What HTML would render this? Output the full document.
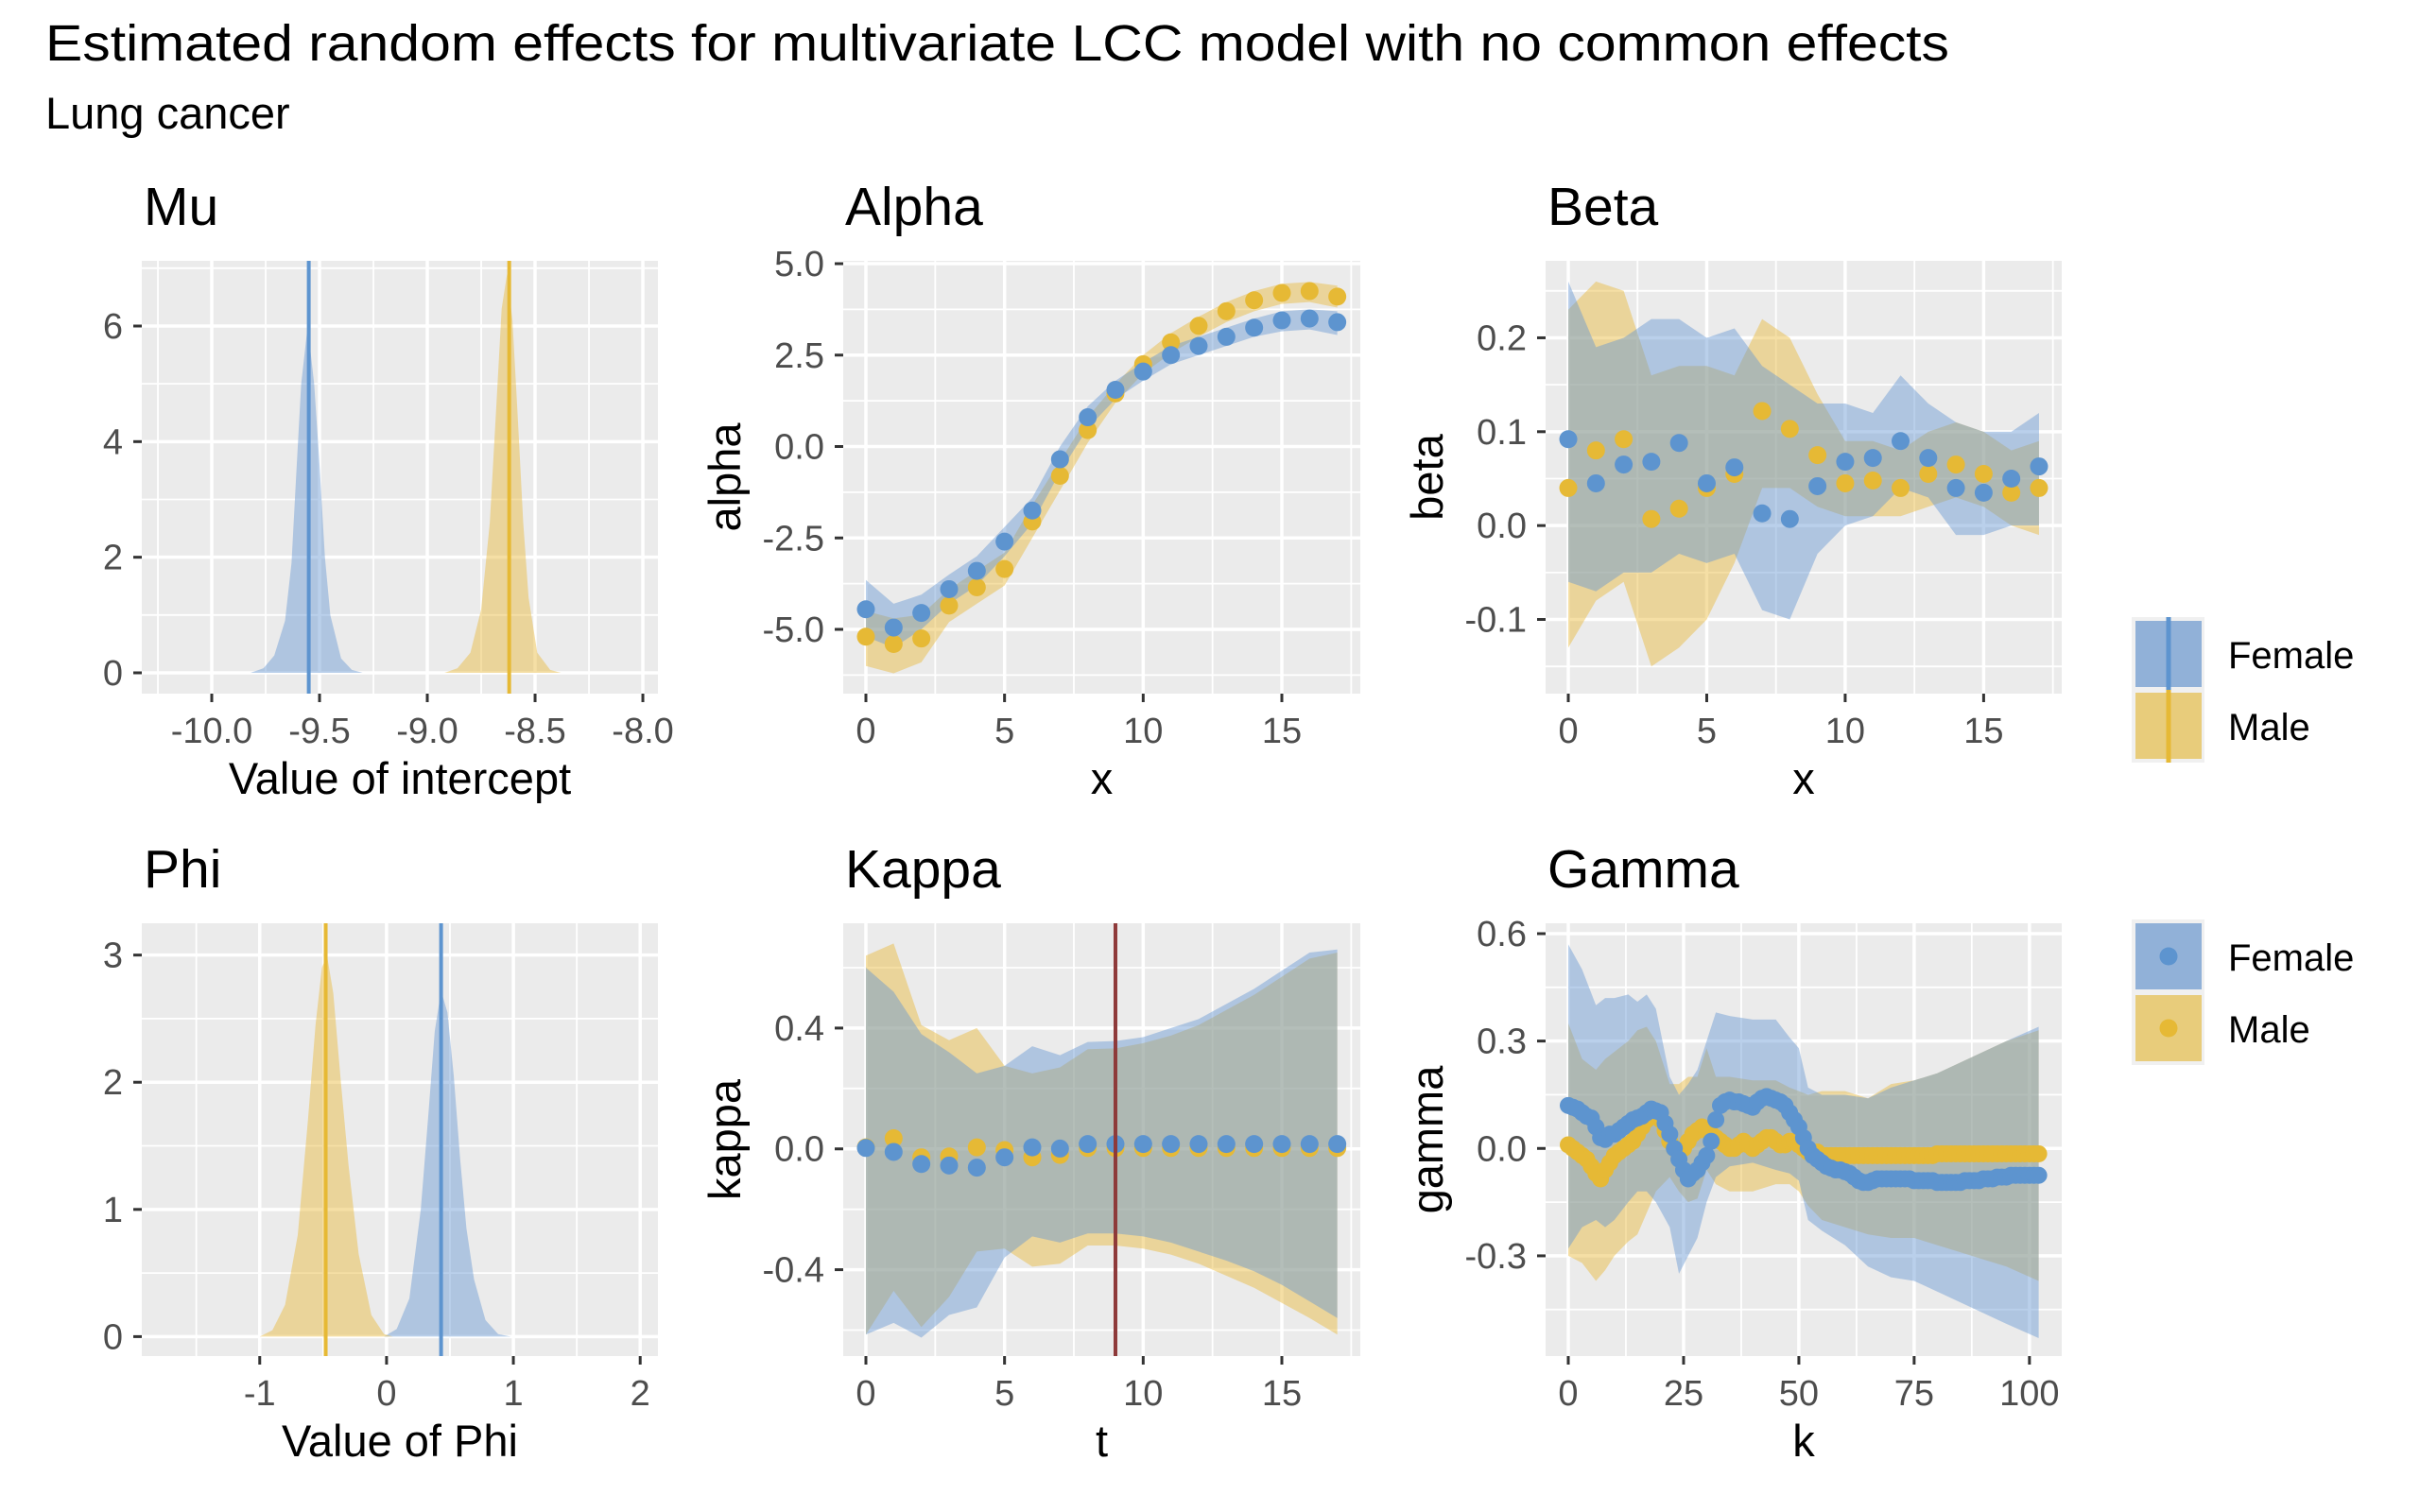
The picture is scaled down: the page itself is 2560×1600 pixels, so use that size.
<!DOCTYPE html>
<html><head><meta charset="utf-8"><style>
html,body{margin:0;padding:0;background:#fff;}
svg{display:block;font-family:"Liberation Sans",Arial,sans-serif;}
</style></head><body>
<svg id="chart" width="2560" height="1600" viewBox="0 0 2560 1600" xmlns="http://www.w3.org/2000/svg">
<text x="48" y="64" font-size="54" fill="#000" textLength="2014" lengthAdjust="spacingAndGlyphs">Estimated random effects for multivariate LCC model with no common effects</text>
<text x="48" y="136" font-size="47" fill="#000">Lung cancer</text>
</svg>
<script>
// ---------- data ----------
const sexes = ["Female","Male"];
// Mu densities
const muXF = [-9.82,-9.76,-9.71,-9.66,-9.63,-9.61,-9.585,-9.555,-9.525,-9.50,-9.475,-9.45,-9.40,-9.35,-9.30];
const muYF = [0,0.08,0.3,0.9,1.9,3.3,5.0,6.0,5.0,3.6,2.0,1.0,0.25,0.05,0];
const muXM = [-8.92,-8.86,-8.80,-8.75,-8.71,-8.68,-8.655,-8.63,-8.605,-8.58,-8.555,-8.53,-8.49,-8.43,-8.38];
const muYM = [0,0.08,0.35,1.1,2.6,4.6,6.3,6.9,6.1,4.4,2.6,1.3,0.35,0.05,0];
const muMeans = [-9.55,-8.62];
// Phi densities
const phiXF = [-0.02,0.08,0.18,0.27,0.33,0.38,0.43,0.48,0.53,0.58,0.63,0.69,0.78,0.88,0.98];
const phiYF = [0,0.06,0.3,1.0,1.75,2.4,2.72,2.55,2.05,1.4,0.85,0.45,0.13,0.02,0];
const phiXM = [-1.0,-0.9,-0.8,-0.7,-0.62,-0.56,-0.51,-0.47,-0.42,-0.36,-0.30,-0.22,-0.12,-0.02,0.05];
const phiYM = [0,0.05,0.25,0.8,1.7,2.45,2.9,3.0,2.7,2.0,1.35,0.65,0.17,0.02,0];
const phiMeans = [0.43,-0.48];
// Alpha
const ages = [0,1,2,3,4,5,6,7,8,9,10,11,12,13,14,15,16,17];
const alphaF = [-4.45,-4.95,-4.55,-3.9,-3.4,-2.6,-1.75,-0.35,0.8,1.55,2.05,2.5,2.75,3.0,3.25,3.45,3.5,3.4];
const alphaM = [-5.2,-5.4,-5.25,-4.35,-3.85,-3.35,-2.05,-0.8,0.45,1.45,2.25,2.85,3.3,3.7,4.0,4.2,4.25,4.1];
const alphaFlo = [-5.2,-5.5,-5.0,-4.3,-3.8,-3.0,-2.1,-0.7,0.5,1.3,1.8,2.25,2.5,2.75,3.0,3.15,3.2,3.05];
const alphaFhi = [-3.65,-4.3,-4.05,-3.5,-3.0,-2.2,-1.4,0.0,1.1,1.8,2.3,2.75,3.0,3.25,3.5,3.7,3.75,3.7];
const alphaMlo = [-6.0,-6.2,-5.9,-4.8,-4.3,-3.8,-2.5,-1.2,0.1,1.2,2.0,2.55,3.0,3.4,3.7,3.9,3.95,3.8];
const alphaMhi = [-4.5,-4.7,-4.6,-3.9,-3.4,-2.9,-1.6,-0.4,0.8,1.7,2.5,3.1,3.55,3.95,4.25,4.45,4.5,4.4];
// Beta
const betaF = [0.092,0.045,0.065,0.068,0.088,0.045,0.062,0.013,0.007,0.042,0.068,0.072,0.09,0.072,0.04,0.035,0.05,0.063];
const betaM = [0.04,0.08,0.092,0.007,0.018,0.04,0.055,0.122,0.103,0.075,0.045,0.048,0.04,0.055,0.065,0.055,0.035,0.04];
const betaFlo = [-0.06,-0.07,-0.05,-0.05,-0.03,-0.04,-0.03,-0.09,-0.1,-0.03,0.0,0.01,0.04,0.03,-0.01,-0.01,0.0,0.0];
const betaFhi = [0.26,0.19,0.2,0.22,0.22,0.2,0.21,0.17,0.15,0.13,0.13,0.12,0.16,0.13,0.11,0.10,0.10,0.12];
const betaMlo = [-0.13,-0.08,-0.06,-0.15,-0.13,-0.1,-0.04,0.04,0.04,0.02,0.01,0.01,0.01,0.02,0.03,0.02,0.0,-0.01];
const betaMhi = [0.23,0.26,0.25,0.16,0.17,0.17,0.16,0.22,0.2,0.14,0.09,0.09,0.08,0.1,0.11,0.1,0.08,0.09];
// Kappa
const years = [0,1,2,3,4,5,6,7,8,9,10,11,12,13,14,15,16,17];
const kappaF = [0.003,-0.01,-0.05,-0.055,-0.062,-0.028,0.005,0.001,0.016,0.016,0.016,0.016,0.016,0.016,0.016,0.016,0.016,0.016];
const kappaM = [0.005,0.035,-0.028,-0.025,0.005,-0.004,-0.028,-0.02,0.003,0.003,0.003,0.003,0.003,0.003,0.003,0.003,0.003,0.003];
const kappaFlo = [-0.615,-0.576,-0.625,-0.55,-0.525,-0.36,-0.29,-0.31,-0.28,-0.28,-0.29,-0.31,-0.34,-0.37,-0.405,-0.45,-0.505,-0.56];
const kappaFhi = [0.60,0.52,0.38,0.32,0.25,0.275,0.34,0.31,0.354,0.357,0.37,0.40,0.43,0.48,0.53,0.59,0.65,0.66];
const kappaMlo = [-0.615,-0.47,-0.59,-0.49,-0.34,-0.33,-0.39,-0.38,-0.32,-0.32,-0.33,-0.35,-0.38,-0.42,-0.46,-0.51,-0.56,-0.615];
const kappaMhi = [0.64,0.68,0.41,0.36,0.40,0.275,0.25,0.27,0.33,0.333,0.35,0.375,0.41,0.46,0.51,0.57,0.63,0.65];
const kappaRefT = 9;
// Gamma
const gammaF = [0.12,0.115,0.11,0.10,0.09,0.085,0.06,0.03,0.025,0.04,
0.04,0.05,0.06,0.07,0.08,0.085,0.09,0.10,0.11,0.105,
0.10,0.07,0.04,0.00,-0.03,-0.06,-0.085,-0.07,-0.06,-0.04,
-0.02,0.02,0.08,0.12,0.13,0.135,0.13,0.13,0.125,0.12,
0.115,0.13,0.14,0.145,0.14,0.135,0.13,0.12,0.10,0.08,
0.06,0.03,0.00,-0.02,-0.03,-0.04,-0.05,-0.055,-0.06,-0.06,
-0.065,-0.07,-0.08,-0.09,-0.095,-0.095,-0.09,-0.085,-0.085,-0.085,
-0.085,-0.085,-0.085,-0.085,-0.085,-0.09,-0.09,-0.09,-0.09,-0.09,
-0.095,-0.095,-0.095,-0.095,-0.095,-0.095,-0.09,-0.09,-0.09,-0.09,
-0.085,-0.085,-0.085,-0.08,-0.08,-0.08,-0.075,-0.075,-0.075,-0.075,
-0.075,-0.075,-0.075];
const gammaM = [0.01,0.0,-0.01,-0.02,-0.03,-0.05,-0.07,-0.085,-0.06,-0.04,
-0.02,-0.01,0.0,0.01,0.02,0.04,0.06,0.08,0.10,0.10,
0.08,0.05,0.02,0.0,-0.01,0.0,0.02,0.04,0.05,0.06,
0.05,0.04,0.03,0.02,0.01,0.0,0.0,0.01,0.02,0.01,
0.0,0.01,0.02,0.03,0.03,0.02,0.01,0.01,0.02,0.02,
0.01,0.0,-0.01,-0.01,-0.01,-0.02,-0.02,-0.02,-0.02,-0.02,
-0.02,-0.02,-0.02,-0.02,-0.02,-0.02,-0.02,-0.02,-0.02,-0.02,
-0.02,-0.02,-0.02,-0.02,-0.02,-0.02,-0.02,-0.02,-0.02,-0.02,
-0.015,-0.015,-0.015,-0.015,-0.015,-0.015,-0.015,-0.015,-0.015,-0.015,
-0.015,-0.015,-0.015,-0.015,-0.015,-0.015,-0.015,-0.015,-0.015,-0.015,
-0.015,-0.015,-0.015];
const gKnotK = [0,3,6,8,10,13,15,17,19,22,24,26,28,30,32,35,40,45,48,50,52,55,60,65,70,75,80,85,90,95,102];
const gFhi = [0.57,0.50,0.40,0.42,0.42,0.43,0.41,0.43,0.39,0.20,0.15,0.18,0.22,0.30,0.38,0.37,0.36,0.36,0.31,0.28,0.17,0.15,0.15,0.14,0.17,0.19,0.21,0.24,0.27,0.30,0.34];
const gFlo = [-0.28,-0.22,-0.20,-0.22,-0.20,-0.15,-0.12,-0.12,-0.15,-0.22,-0.35,-0.30,-0.25,-0.15,-0.08,-0.05,-0.04,-0.06,-0.07,-0.09,-0.20,-0.23,-0.27,-0.33,-0.36,-0.37,-0.40,-0.43,-0.46,-0.49,-0.53];
const gMhi = [0.35,0.25,0.22,0.25,0.27,0.30,0.33,0.34,0.30,0.18,0.18,0.20,0.20,0.28,0.20,0.20,0.19,0.19,0.17,0.16,0.15,0.16,0.16,0.14,0.18,0.19,0.21,0.24,0.27,0.30,0.33];
const gMlo = [-0.30,-0.32,-0.37,-0.34,-0.30,-0.26,-0.24,-0.18,-0.12,-0.08,-0.12,-0.15,-0.14,-0.06,-0.10,-0.12,-0.12,-0.10,-0.10,-0.12,-0.16,-0.20,-0.22,-0.24,-0.25,-0.25,-0.27,-0.29,-0.31,-0.33,-0.37];
// tick labels
const muXTicks = [-10,-9.5,-9,-8.5,-8];
const muXTickLabels = ["-10.0","-9.5","-9.0","-8.5","-8.0"];
const muYTicks = [0,2,4,6];
const phiXTicks = [-1,0,1,2];
const phiYTicks = [0,1,2,3];
const ageTicks = [0,5,10,15];
const alphaYTicks = [-5,-2.5,0,2.5,5];
const alphaYTickLabels = ["-5.0","-2.5","0.0","2.5","5.0"];
const betaYTicks = [-0.1,0,0.1,0.2];
const betaYTickLabels = ["-0.1","0.0","0.1","0.2"];
const kappaYTicks = [-0.4,0,0.4];
const kappaYTickLabels = ["-0.4","0.0","0.4"];
const gammaXTicks = [0,25,50,75,100];
const gammaYTicks = [-0.3,0,0.3,0.6];
const gammaYTickLabels = ["-0.3","0.0","0.3","0.6"];

// ---------- drawing ----------
const NS = "http://www.w3.org/2000/svg";
const svg = document.getElementById("chart");
const COL = {Female:"#5D94CF", Male:"#E6B935"};
const FILL = {Female:"rgba(102,150,210,0.45)", Male:"rgba(232,185,55,0.45)"};
function mk(tag, parent){const e=document.createElementNS(NS,tag);parent.appendChild(e);return e;}
function set(e,o){for(const k in o) e.setAttribute(k,o[k]);}
let clipN=0;
function panel(key, box, xd, yd, xT, xTL, yT, yTL, xMinor, yMinor, title, xTitle, yTitle){
  const [x0,x1,y0,y1]=box;
  const sx=v=>x0+(v-xd[0])/(xd[1]-xd[0])*(x1-x0);
  const sy=v=>y1-(v-yd[0])/(yd[1]-yd[0])*(y1-y0);
  const g=mk("g",svg);
  
  
  const bg=mk("rect",g); set(bg,{x:x0,y:y0,width:x1-x0,height:y1-y0,fill:"#EBEBEB"});
  
  
  xMinor.forEach(v=>{const l=mk("line",g);set(l,{x1:sx(v),x2:sx(v),y1:y0,y2:y1,stroke:"#fff","stroke-width":1.8});
    
    });
  yMinor.forEach(v=>{const l=mk("line",g);set(l,{x1:x0,x2:x1,y1:sy(v),y2:sy(v),stroke:"#fff","stroke-width":1.8});
    
    });
  xT.forEach((v,i)=>{const l=mk("line",g);set(l,{x1:sx(v),x2:sx(v),y1:y0,y2:y1,stroke:"#fff","stroke-width":3.5});
    
    
    const t=mk("line",g);set(t,{x1:sx(v),x2:sx(v),y1:y1,y2:y1+9,stroke:"#333","stroke-width":3});
    
    
    const tx=mk("text",g);set(tx,{x:sx(v),y:y1+52,"font-size":38,fill:"#4D4D4D","text-anchor":"middle"});tx.textContent=xTL[i];
    
    });
  yT.forEach((v,i)=>{const l=mk("line",g);set(l,{x1:x0,x2:x1,y1:sy(v),y2:sy(v),stroke:"#fff","stroke-width":3.5});
    
    
    const t=mk("line",g);set(t,{x1:x0-9,x2:x0,y1:sy(v),y2:sy(v),stroke:"#333","stroke-width":3});
    
    
    const tx=mk("text",g);set(tx,{x:x0-20,y:sy(v)+13,"font-size":38,fill:"#4D4D4D","text-anchor":"end"});tx.textContent=yTL[i];
    
    });
  const ti=mk("text",g);set(ti,{x:x0+2,y:y0-38,"font-size":57,fill:"#000"});ti.textContent=title;
  
  
  const xt=mk("text",g);set(xt,{x:(x0+x1)/2,y:y1+106,"font-size":47,fill:"#000","text-anchor":"middle"});xt.textContent=xTitle;
  
  
  if(yTitle){const yt=mk("text",g);const cx=x0-125,cy=(y0+y1)/2;set(yt,{x:cx,y:cy,"font-size":47,fill:"#000","text-anchor":"middle",transform:`rotate(-90 ${cx} ${cy})`,dy:16});yt.textContent=yTitle;
    
    }
  const cp=mk("clipPath",svg); const id="clip"+(clipN++); cp.setAttribute("id",id);
  const cr=mk("rect",cp); set(cr,{x:x0,y:y0,width:x1-x0,height:y1-y0});
  const pg=mk("g",g); pg.setAttribute("clip-path",`url(#${id})`);
  
  
  return {sx,sy,g:pg,y0,y1};
}
function density(P, key, xs, ys, mean, sex){
  let d=`M${P.sx(xs[0])},${P.sy(0)}`;
  xs.forEach((x,i)=>{d+=` L${P.sx(x)},${P.sy(ys[i])}`;});
  d+=` L${P.sx(xs[xs.length-1])},${P.sy(0)} Z`;
  const p=mk("path",P.g); set(p,{d,fill:FILL[sex],stroke:"none"});
  
  
  const l=mk("line",P.g); set(l,{x1:P.sx(mean),x2:P.sx(mean),y1:P.y0,y2:P.y1,stroke:COL[sex],"stroke-width":4});
  
  
}
function ribbon(P, key, xs, lo, hi, sex){
  let d="";
  xs.forEach((x,i)=>{d+=(i?" L":"M")+P.sx(x)+","+P.sy(hi[i]);});
  for(let i=xs.length-1;i>=0;i--) d+=" L"+P.sx(xs[i])+","+P.sy(lo[i]);
  d+=" Z";
  const p=mk("path",P.g); set(p,{d,fill:FILL[sex],stroke:"none"});
  
  
}
function points(P, key, xs, ys, sex, r){
  ys.forEach((v,i)=>{const c=mk("circle",P.g); set(c,{cx:P.sx(xs[i]),cy:P.sy(v),r:r,fill:COL[sex]});
    
    });
}
const fmt=v=>String(v);
// Mu
const mu=panel("mu",[150,696,276,734],[-10.3246,-7.93],[-0.36,7.128],muXTicks,muXTickLabels,muYTicks,muYTicks.map(fmt),
  [-10.25,-9.75,-9.25,-8.75,-8.25],[1,3,5,7],"Mu","Value of intercept",null);
density(mu,"mu",muXF,muYF,muMeans[0],"Female");
density(mu,"mu",muXM,muYM,muMeans[1],"Male");
// Alpha
const al=panel("alpha",[892,1439,276,734],[-0.818,17.83],[-6.757,5.078],ageTicks,ageTicks.map(fmt),alphaYTicks,alphaYTickLabels,
  [2.5,7.5,12.5,17.5],[-6.25,-3.75,-1.25,1.25,3.75],"Alpha","x","alpha");
ribbon(al,"alpha",ages,alphaMlo,alphaMhi,"Male");
ribbon(al,"alpha",ages,alphaFlo,alphaFhi,"Female");
points(al,"alpha",ages,alphaM,"Male",9.5);
points(al,"alpha",ages,alphaF,"Female",9.5);
// Beta
const be=panel("beta",[1635,2181,276,734],[-0.82,17.82],[-0.179,0.282],ageTicks,ageTicks.map(fmt),betaYTicks,betaYTickLabels,
  [2.5,7.5,12.5,17.5],[-0.15,-0.05,0.05,0.15,0.25],"Beta","x","beta");
ribbon(be,"beta",ages,betaMlo,betaMhi,"Male");
ribbon(be,"beta",ages,betaFlo,betaFhi,"Female");
points(be,"beta",ages,betaM,"Male",9.5);
points(be,"beta",ages,betaF,"Female",9.5);
// Phi
const ph=panel("phi",[150,696,977,1435],[-1.93,2.14],[-0.153,3.25],phiXTicks,phiXTicks.map(fmt),phiYTicks,phiYTicks.map(fmt),
  [-1.5,-0.5,0.5,1.5],[0.5,1.5,2.5],"Phi","Value of Phi",null);
density(ph,"phi",phiXF,phiYF,phiMeans[0],"Female");
density(ph,"phi",phiXM,phiYM,phiMeans[1],"Male");
// Kappa
const ka=panel("kappa",[892,1439,977,1435],[-0.818,17.83],[-0.686,0.747],ageTicks,ageTicks.map(fmt),kappaYTicks,kappaYTickLabels,
  [2.5,7.5,12.5,17.5],[-0.6,-0.2,0.2,0.6],"Kappa","t","kappa");
ribbon(ka,"kappa",years,kappaMlo,kappaMhi,"Male");
ribbon(ka,"kappa",years,kappaFlo,kappaFhi,"Female");
points(ka,"kappa",years,kappaM,"Male",9.5);
points(ka,"kappa",years,kappaF,"Female",9.5);
const ref=mk("line",ka.g); set(ref,{x1:ka.sx(kappaRefT),x2:ka.sx(kappaRefT),y1:977,y2:1435,stroke:"#8E3A3A","stroke-width":4});


// Gamma
const ga=panel("gamma",[1635,2181,977,1435],[-4.92,107],[-0.58,0.629],gammaXTicks,gammaXTicks.map(fmt),gammaYTicks,gammaYTickLabels,
  [12.5,37.5,62.5,87.5],[-0.45,-0.15,0.15,0.45],"Gamma","k","gamma");
const cohorts = gammaF.map((_,i)=>i);
ribbon(ga,"gamma",gKnotK,gMlo,gMhi,"Male");
ribbon(ga,"gamma",gKnotK,gFlo,gFhi,"Female");
points(ga,"gamma",cohorts,gammaM,"Male",9);
points(ga,"gamma",cohorts,gammaF,"Female",9);
// Legends
function legend(key, top, withPoint){
  const g=mk("g",svg);
  
  
  const bg=mk("rect",g); set(bg,{x:2255,y:top,width:77,height:154,fill:"#F0F0F0"});
  
  
  sexes.forEach((s,i)=>{
    const ky=top+4+i*76;
    const r=mk("rect",g); set(r,{x:2259,y:ky,width:70,height:70,fill:s==="Female"?"#91B1D8":"#E8CC7B"});
    
    
    if(withPoint){const c=mk("circle",g); set(c,{cx:2294,cy:ky+35,r:9.5,fill:COL[s]});
      
      }
    else {const l=mk("line",g); set(l,{x1:2294,x2:2294,y1:top+i*77,y2:top+77+i*77,stroke:COL[s],"stroke-width":5});
      
      }
    const t=mk("text",g); set(t,{x:2357,y:ky+50,"font-size":40,fill:"#000"}); t.textContent=s;
    
    
  });
}
legend("density-legend",653,false);
legend("points-legend",973,true);
</script>
</body></html>
